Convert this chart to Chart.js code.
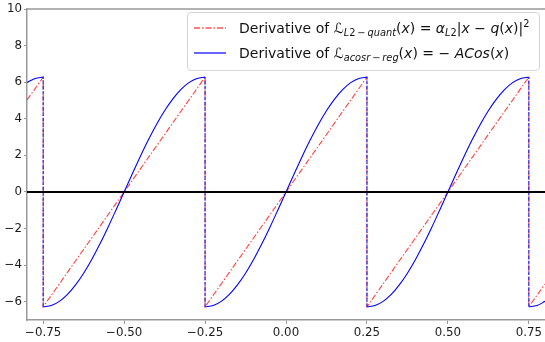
<!DOCTYPE html>
<html>
<head>
<meta charset="utf-8">
<script src="https://cdn.jsdelivr.net/npm/chart.js@4.4.1/dist/chart.umd.min.js"></script>
<style>
  body { margin: 0; background: #fff; }
  #wrap { position: relative; width: 545px; height: 342px; }
  #legend {
    position: absolute; left: 187px; top: 12px; width: 351px; height: 57px;
    border: 1px solid #d6d6d6; border-radius: 4px; background: rgba(255,255,255,0.85);
    font-family: 'DejaVu Sans', sans-serif; font-size: 14px; color: #111;
  }
  .row { position: absolute; left: 0; height: 20px; white-space: nowrap; }
  .row svg { position: absolute; left: 6px; top: 5px; }
  .row span.txt { position: absolute; left: 51px; top: 0; line-height: 20px; }
  .row sub { font-size: 70%; vertical-align: -3px; line-height: 0; }
  .row sup { font-size: 70%; vertical-align: 6px; line-height: 0; }
</style>
</head>
<body>
<div id="wrap">
  <canvas id="chart" width="545" height="342"></canvas>
  <div id="legend">
    <div class="row" style="top:5px">
      <svg width="32" height="10"><line x1="0" y1="5" x2="32" y2="5" stroke="red" stroke-width="1.2" stroke-dasharray="6 2 1.5 2"/></svg>
      <span class="txt">Derivative of ℒ<sub><i>L</i>2&thinsp;−&thinsp;<i>quant</i></sub>(<i>x</i>) = <i>α</i><sub><i>L</i>2</sub>|<i>x</i> − <i>q</i>(<i>x</i>)|<sup>2</sup></span>
    </div>
    <div class="row" style="top:30px">
      <svg width="32" height="10"><line x1="0" y1="5" x2="32" y2="5" stroke="blue" stroke-width="1.2"/></svg>
      <span class="txt">Derivative of ℒ<sub><i>acosr</i>&thinsp;−&thinsp;<i>reg</i></sub>(<i>x</i>) = − <i>ACos</i>(<i>x</i>)</span>
    </div>
  </div>
</div>
<script>
const xTicks = [-0.75, -0.5, -0.25, 0, 0.25, 0.5, 0.75];
const yTicks = [-6, -4, -2, 0, 2, 4, 6, 8, 10];

// red sawtooth, straight between the jumps
const redX = [-0.8, -0.75, -0.75, -0.25, -0.25, 0.25, 0.25, 0.75, 0.75, 0.8];
const redY = [5.03, 6.28, -6.28, 6.28, -6.28, 6.28, -6.28, 6.28, -6.28, -5.03];

// blue curve (null = break at jump)
const blueX = [
  -0.8, -0.775, -0.75, -0.75,
  -0.75, -0.725, -0.7, -0.675, -0.65, -0.625, -0.6, -0.575, -0.55, -0.525, -0.5,
  -0.475, -0.45, -0.425, -0.4, -0.375, -0.35, -0.325, -0.3, -0.275, -0.25, -0.25,
  -0.25, -0.225, -0.2, -0.175, -0.15, -0.125, -0.1, -0.075, -0.05, -0.025, 0,
  0.025, 0.05, 0.075, 0.1, 0.125, 0.15, 0.175, 0.2, 0.225, 0.25, 0.25,
  0.25, 0.275, 0.3, 0.325, 0.35, 0.375, 0.4, 0.425, 0.45, 0.475, 0.5,
  0.525, 0.55, 0.575, 0.6, 0.625, 0.65, 0.675, 0.7, 0.725, 0.75, 0.75,
  0.75, 0.775, 0.8
];
const blueY = [
  5.98, 6.21, 6.28, null,
  -6.28, -6.21, -5.98, -5.60, -5.08, -4.44, -3.69, -2.85, -1.94, -0.98, 0,
  0.98, 1.94, 2.85, 3.69, 4.44, 5.08, 5.60, 5.98, 6.21, 6.28, null,
  -6.28, -6.21, -5.98, -5.60, -5.08, -4.44, -3.69, -2.85, -1.94, -0.98, 0,
  0.98, 1.94, 2.85, 3.69, 4.44, 5.08, 5.60, 5.98, 6.21, 6.28, null,
  -6.28, -6.21, -5.98, -5.60, -5.08, -4.44, -3.69, -2.85, -1.94, -0.98, 0,
  0.98, 1.94, 2.85, 3.69, 4.44, 5.08, 5.60, 5.98, 6.21, 6.28, null,
  -6.28, -6.21, -5.98
];

// dashed vertical lines at the jumps
const jumpX = [-0.75, -0.25, 0.25, 0.75];
const jumpLow = [-6.28, -6.28, -6.28, -6.28];
const jumpHigh = [6.28, 6.28, 6.28, 6.28];

const zeroX = [-0.8, 0.8];
const zeroY = [0, 0];

const pts = (xs, ys) => xs.map((x, i) => ({ x: x, y: ys[i] }));
const vlinePts = [];
jumpX.forEach((x, i) => {
  vlinePts.push({ x: x, y: jumpLow[i] }, { x: x, y: jumpHigh[i] }, { x: x, y: null });
});

const fmt = (v) => (v < 0 ? '\u2212' : '') + Math.abs(v);
const fmtX = (v) => (v < 0 ? '\u2212' : '') + Math.abs(v).toFixed(2);

const spineColor = '#999';

const topSpine = {
  id: 'topSpine',
  afterDraw(chart) {
    const { ctx, chartArea } = chart;
    ctx.save();
    ctx.strokeStyle = spineColor;
    ctx.lineWidth = 1.5;
    ctx.beginPath();
    ctx.moveTo(chartArea.left, chartArea.top);
    ctx.lineTo(chartArea.right, chartArea.top);
    ctx.stroke();
    ctx.restore();
  }
};

new Chart(document.getElementById('chart'), {
  type: 'scatter',
  data: {
    datasets: [
      {
        data: pts(zeroX, zeroY), showLine: true, borderColor: '#000', borderWidth: 2,
        pointRadius: 0, order: 0
      },
      {
        data: vlinePts, showLine: true, borderColor: '#2a2af5', borderWidth: 1.2,
        borderDash: [3.7, 1.6], pointRadius: 0, spanGaps: false, order: 1
      },
      {
        data: pts(blueX, blueY), showLine: true, borderColor: 'blue', borderWidth: 1.1,
        pointRadius: 0, spanGaps: false, cubicInterpolationMode: 'monotone', order: 2
      },
      {
        data: pts(redX, redY), showLine: true, borderColor: 'rgba(255,0,0,0.75)', borderWidth: 1.1,
        borderDash: [6, 2, 1.5, 2], pointRadius: 0, order: 3
      }
    ]
  },
  options: {
    responsive: false,
    animation: false,
    layout: { autoPadding: false, padding: { top: 4, right: 0, left: 0, bottom: 0 } },
    plugins: { legend: { display: false }, tooltip: { enabled: false } },
    scales: {
      x: {
        type: 'linear', min: -0.8, max: 0.8,
        afterBuildTicks: (s) => { s.ticks = xTicks.map(v => ({ value: v })); },
        afterFit: (s) => { s.height = 22; },
        grid: { drawOnChartArea: false, drawTicks: true, tickLength: 4, color: spineColor },
        border: { display: true, color: spineColor, width: 1.5 },
        ticks: {
          autoSkip: false, maxRotation: 0, padding: 2, color: '#1a1a1a',
          font: { family: 'DejaVu Sans', size: 11.8 },
          callback: (v) => fmtX(v)
        }
      },
      y: {
        type: 'linear', min: -7, max: 10,
        afterBuildTicks: (s) => { s.ticks = yTicks.map(v => ({ value: v })); },
        afterFit: (s) => { s.width = 27; },
        grid: { drawOnChartArea: false, drawTicks: true, tickLength: 3, color: spineColor },
        border: { display: true, color: spineColor, width: 1.5 },
        ticks: {
          autoSkip: false, padding: 2, color: '#1a1a1a',
          font: { family: 'DejaVu Sans', size: 11.8 },
          callback: (v) => fmt(v)
        }
      }
    }
  },
  plugins: [topSpine]
});
</script>
</body>
</html>
